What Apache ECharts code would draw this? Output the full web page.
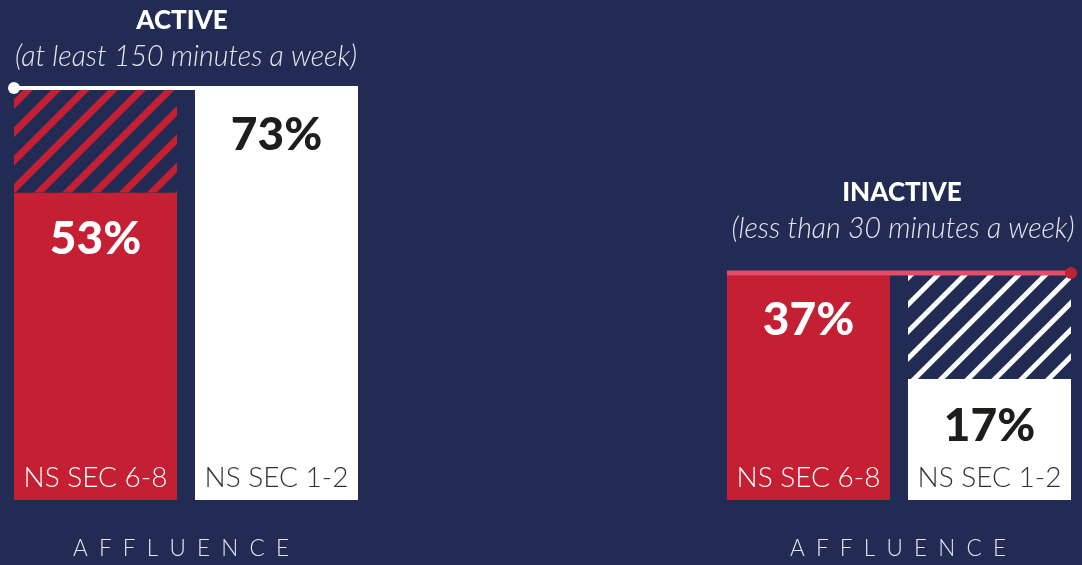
<!DOCTYPE html>
<html>
<head>
<meta charset="utf-8">
<script src="https://cdn.jsdelivr.net/npm/echarts@6/dist/echarts.min.js"></script>
<style>
  html, body { margin: 0; padding: 0; background: #212b53; }
  #chart { width: 1082px; height: 565px; }
</style>
</head>
<body>
<div id="chart"></div>
<script>
// data
const categories = ['NS SEC 6-8', 'NS SEC 1-2'];
const activeShares = [53, 73];
const inactiveShares = [37, 17];
const groupTitles = ['ACTIVE', 'INACTIVE'];
const groupNotes = ['(at least 150 minutes a week)', '(less than 30 minutes a week)'];
const axisTitle = 'AFFLUENCE';

// layout / style
const BG = '#212b53';
const RED = '#c41f33';
const WHITE = '#ffffff';
const PLINTH = 5.85;   // value units under each bar that hold the category label
const BAR_W = 163;
const FONT = 'Lato, "Noto Sans", sans-serif';
const barColors = [RED, WHITE];
const nameColors = ['#ffffff', '#333333'];
const valueColors = ['#ffffff', '#1d1d1b'];

function groupSeries(gi, values, hatch, refLine) {
    const max = Math.max(...values);
    const stack = 'g' + gi;
    const common = { type: 'bar', stack: stack, xAxisIndex: gi, yAxisIndex: gi, barWidth: BAR_W, silent: true };
    return [
        Object.assign({}, common, {
            data: categories.map((c, k) => ({
                value: PLINTH,
                // the offset shadow fills the hairline seam under the stacked bar
                itemStyle: { color: barColors[k], shadowColor: barColors[k], shadowBlur: 0, shadowOffsetY: -2 },
                label: { color: nameColors[k] }
            })),
            label: {
                show: true, position: 'insideBottom', distance: 9,
                formatter: '{b}', fontFamily: FONT, fontWeight: 300, fontSize: 28, lineHeight: 26
            }
        }),
        Object.assign({}, common, {
            data: values.map((v, k) => ({
                value: v,
                itemStyle: { color: barColors[k] },
                label: { color: valueColors[k] }
            })),
            label: {
                show: true, position: 'insideTop', distance: 24,
                formatter: '{c}%', fontFamily: FONT, fontWeight: 900, fontSize: 46
            }
        }),
        Object.assign({}, common, {
            data: values.map(v => v < max ? max - v : '-'),
            itemStyle: {
                color: BG,
                decal: {
                    symbol: 'rect', symbolSize: 1, color: hatch.color,
                    dashArrayX: [1, 0], dashArrayY: hatch.dash, rotation: -Math.PI / 4
                }
            }
        }),
        {
            type: 'custom', xAxisIndex: gi, yAxisIndex: gi, silent: true, z: 5,
            encode: { x: 0, y: 1 },
            data: [[0, max]],
            renderItem: (params, api) => {
                const y = api.coord([0, PLINTH + api.value(1)])[1];
                const x0 = api.coord([0, 0])[0] - BAR_W / 2;
                const x1 = api.coord([1, 0])[0] + BAR_W / 2;
                const dx = refLine.dot === 'left' ? x0 : x1;
                return {
                    type: 'group',
                    children: [
                        { type: 'line', shape: { x1: x0, y1: y, x2: x1, y2: y }, style: { stroke: refLine.color, lineWidth: refLine.width } },
                        { type: 'circle', shape: { cx: dx, cy: y, r: 6 }, style: { fill: refLine.dotColor } }
                    ]
                };
            }
        }
    ];
}

function xAxisFor(gi, namePad) {
    return {
        type: 'category', gridIndex: gi, data: categories,
        axisLine: { show: false }, axisTick: { show: false }, axisLabel: { show: false },
        name: axisTitle.split('').join('\u2002'),
        nameLocation: 'middle', nameGap: 37,
        nameTextStyle: { color: '#e4e6ee', fontFamily: FONT, fontWeight: 300, fontSize: 22.5, padding: namePad }
    };
}

function yAxisFor(gi) {
    return { type: 'value', gridIndex: gi, min: 0, max: 80, show: false, splitLine: { show: false } };
}

const chart = echarts.init(document.getElementById('chart'));
chart.setOption({
    backgroundColor: BG,
    animation: false,
    grid: [
        { left: 5, width: 362, top: 82, bottom: 62 },
        { left: 718, width: 362, top: 76, bottom: 62 }
    ],
    xAxis: [xAxisFor(0, [0, 10, 0, 0]), xAxisFor(1, [0, 2, 0, 0])],
    yAxis: [yAxisFor(0), yAxisFor(1)],
    graphic: [
        { type: 'text', x: 182, y: 21, style: { text: groupTitles[0], fill: '#fff', font: '900 26px ' + FONT, textAlign: 'center', textVerticalAlign: 'middle' } },
        { type: 'text', x: 186, y: 57, style: { text: groupNotes[0], fill: '#e6e7ee', font: 'italic 300 28.5px ' + FONT, textAlign: 'center', textVerticalAlign: 'middle' } },
        { type: 'text', x: 902, y: 193, style: { text: groupTitles[1], fill: '#fff', font: '900 26px ' + FONT, textAlign: 'center', textVerticalAlign: 'middle' } },
        { type: 'text', x: 903, y: 229, style: { text: groupNotes[1], fill: '#e6e7ee', font: 'italic 300 28.5px ' + FONT, textAlign: 'center', textVerticalAlign: 'middle' } }
    ],
    series: [].concat(
        groupSeries(0, activeShares, { color: RED, dash: [7, 13] }, { color: WHITE, width: 4, dot: 'left', dotColor: WHITE }),
        groupSeries(1, inactiveShares, { color: WHITE, dash: [5, 14] }, { color: '#e54b6b', width: 5, dot: 'right', dotColor: RED })
    )
});
</script>
</body>
</html>
